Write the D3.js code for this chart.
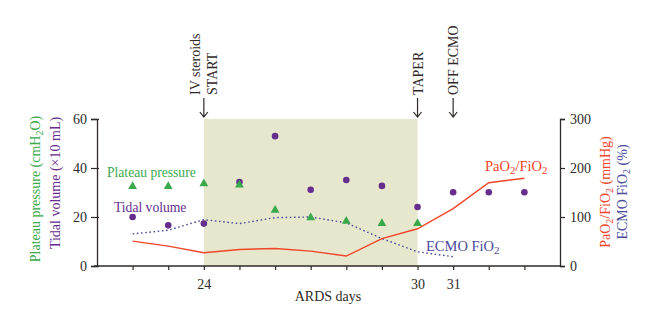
<!DOCTYPE html>
<html>
<head>
<meta charset="utf-8">
<script src="https://d3js.org/d3.v7.min.js"></script>
<style>
  body { margin: 0; background: #fff; }
  svg text { font-family: 'Liberation Serif', 'DejaVu Serif', serif; }
</style>
</head>
<body>
<svg id="chart" width="660" height="336"></svg>
<script>
// ARDS course, one value per day
var days = [22, 23, 24, 25, 26, 27, 28, 29, 30, 31, 32, 33];
var tidalVolume = [20, 16.6, 17.3, 34.3, 53, 31.1, 35.1, 32.7, 24.1, 30.1, 30.1, 30.1];
var plateauDays = [22, 23, 24, 25, 26, 27, 28, 29, 30];
var plateauPressure = [32.5, 32.5, 33.6, 33.1, 22.8, 19.7, 18.3, 17.4, 17.4];
var pfRatio = [50.7, 40.5, 27, 33.8, 35.8, 30.4, 20.3, 56, 76, 117, 170, 179];
var ecmoDays = [22, 23, 24, 25, 26, 27, 28, 29, 30, 31];
var ecmoFio2 = [65.5, 73, 94.6, 86.5, 98.7, 100, 88, 56, 29, 19];
var leftTicks = [0, 20, 40, 60];
var rightTicks = [0, 100, 200, 300];
var dayLabels = [24, 30, 31];
var events = [
  { day: 24, lines: ["IV steroids", "START"] },
  { day: 30, lines: ["TAPER"] },
  { day: 31, lines: ["OFF ECMO"] }
];

var green = "#3aa94b", purple = "#662d8c", red = "#f1452a", blue = "#4b4b9b", ink = "#2f2a28";

var svg = d3.select("#chart");
var x = d3.scaleLinear().domain([21, 34]).range([97, 560]);
var yL = d3.scaleLinear().domain([0, 60]).range([266, 119]);
var yR = d3.scaleLinear().domain([0, 300]).range([266, 119]);

// steroid window
svg.append("rect")
  .attr("x", x(24)).attr("y", yL(60))
  .attr("width", x(30) - x(24)).attr("height", yL(0) - yL(60))
  .attr("fill", "#e7e7ce");

// axes
var axL = svg.append("g").attr("transform", "translate(" + x(21) + ",0)")
  .call(d3.axisLeft(yL).tickValues(leftTicks).tickSize(6).tickPadding(4));
var axR = svg.append("g").attr("transform", "translate(" + x(34) + ",0)")
  .call(d3.axisRight(yR).tickValues(rightTicks).tickSize(5).tickPadding(5));
var axB = svg.append("g").attr("transform", "translate(0," + yL(0) + ")")
  .call(d3.axisBottom(x).tickValues(d3.range(22, 34)).tickSize(4).tickPadding(9)
    .tickFormat(function(d) { return dayLabels.indexOf(d) >= 0 ? d : ""; }));
[axL, axR, axB].forEach(function(g) {
  g.select(".domain").attr("stroke", ink).attr("stroke-width", 1.3);
  g.selectAll(".tick line").attr("stroke", ink).attr("stroke-width", 1.2);
  g.selectAll("text").attr("fill", ink).style("font-size", "14px")
    .style("font-family", "'Liberation Serif', serif");
});
axB.select(".domain").attr("d", "M" + (x(21) - 3) + ",0H" + (x(34) + 1));
axL.selectAll(".tick line").attr("x1", 2);

// ECMO FiO2, dotted
svg.append("path")
  .datum(ecmoDays.map(function(d, i) { return [d, ecmoFio2[i]]; }))
  .attr("fill", "none").attr("stroke", blue).attr("stroke-width", 1.4)
  .attr("stroke-dasharray", "1.6,2.6")
  .attr("d", d3.line().x(function(d) { return x(d[0]); }).y(function(d) { return yR(d[1]); }));

// PaO2/FiO2
svg.append("path")
  .datum(days.map(function(d, i) { return [d, pfRatio[i]]; }))
  .attr("fill", "none").attr("stroke", red).attr("stroke-width", 1.4)
  .attr("d", d3.line().x(function(d) { return x(d[0]); }).y(function(d) { return yR(d[1]); }));

// tidal volume dots
svg.selectAll(".tv").data(days).enter().append("circle")
  .attr("cx", function(d) { return x(d); })
  .attr("cy", function(d, i) { return yL(tidalVolume[i]); })
  .attr("r", 3.3).attr("fill", purple);

// plateau pressure triangles
svg.selectAll(".pp").data(plateauDays).enter().append("path")
  .attr("transform", function(d, i) { return "translate(" + x(d) + "," + yL(plateauPressure[i]) + ")"; })
  .attr("d", d3.symbol().type(d3.symbolTriangle).size(34))
  .attr("fill", green);

// series labels
function label(txt, px, py, color, size) {
  var t = svg.append("text").attr("x", px).attr("y", py).attr("fill", color).style("font-size", size + "px");
  txt.forEach(function(part) {
    var s = t.append("tspan").text(part.t);
    if (part.sub) s.attr("dy", 3).style("font-size", "11px");
    else if (part.back) s.attr("dy", -3);
  });
  return t;
}
label([{ t: "Plateau pressure" }], 107, 177, green, 13.6);
label([{ t: "Tidal volume" }], 114, 212, purple, 13.6);
label([{ t: "PaO" }, { t: "2", sub: true }, { t: "/FiO", back: true }, { t: "2", sub: true }], 485, 171, red, 14.5);
label([{ t: "ECMO FiO" }, { t: "2", sub: true }], 426, 251, blue, 14.5);

// x axis title
svg.append("text").attr("x", 328).attr("y", 301).attr("text-anchor", "middle")
  .attr("fill", ink).style("font-size", "14px").text("ARDS days");

// rotated axis titles
function vtitle(parts, cx, cy, color) {
  var t = svg.append("text").attr("transform", "translate(" + cx + "," + cy + ") rotate(-90)")
    .attr("text-anchor", "middle").attr("fill", color).style("font-size", "14px");
  parts.forEach(function(p) {
    var s = t.append("tspan").text(p.t);
    if (p.sub) s.attr("dy", 3).style("font-size", "10px");
    else if (p.back) s.attr("dy", -3);
  });
}
vtitle([{ t: "Plateau pressure (cmH" }, { t: "2", sub: true }, { t: "O)", back: true }], 40, 189, green);
vtitle([{ t: "Tidal volume (\u00d710 mL)" }], 60, 183, purple);
vtitle([{ t: "PaO" }, { t: "2", sub: true }, { t: "/FiO", back: true }, { t: "2", sub: true }, { t: " (mmHg)", back: true }], 610, 192, red);
vtitle([{ t: "ECMO FiO" }, { t: "2", sub: true }, { t: " (%)", back: true }], 627, 192, blue);

// event arrows and notes
events.forEach(function(ev) {
  var ax = x(ev.day);
  svg.append("path")
    .attr("d", "M" + ax + ",98V117M" + (ax - 4) + ",112L" + ax + ",117L" + (ax + 4) + ",112")
    .attr("fill", "none").attr("stroke", ink).attr("stroke-width", 1.2);
  ev.lines.forEach(function(line, i) {
    var n = ev.lines.length;
    var cx = ax + (i - (n - 1) / 2) * 17 + 5;
    svg.append("text")
      .attr("transform", "translate(" + cx + ",95) rotate(-90)")
      .attr("fill", ink).style("font-size", "14px").text(line);
  });
});
</script>
</body>
</html>
